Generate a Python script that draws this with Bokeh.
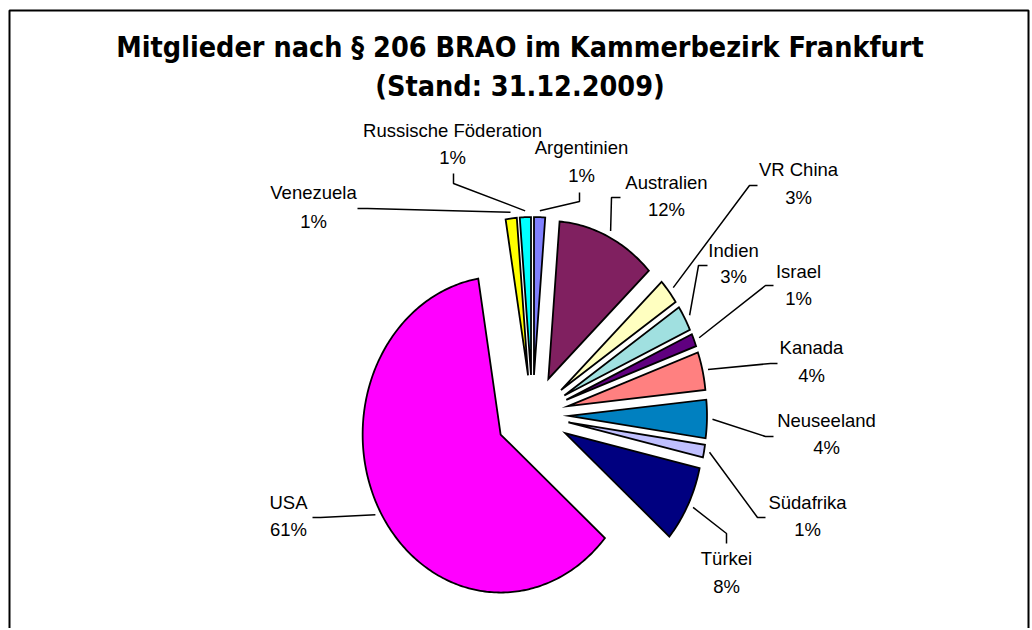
import numpy as np
from bokeh.plotting import figure
from bokeh.models import Range1d, ColumnDataSource
from bokeh.core.properties import value
from bokeh.embed import file_html
from bokeh.resources import INLINE

# ---- data (counts; labels show rounded shares) ----
countries = ["Argentinien", "Australien", "VR China", "Indien", "Israel", "Kanada",
             "Neuseeland", "Südafrika", "Türkei", "USA", "Venezuela", "Russische Föderation"]
counts = [1, 9, 2, 2, 1, 3, 3, 1, 6, 47, 1, 1]
colors = ["#8080FF", "#802060", "#FFFFC0", "#A0E0E0", "#600080", "#FF8080",
          "#0080C0", "#C0C0FF", "#000080", "#FF00FF", "#FFFF00", "#00FFFF"]
title_lines = ["Mitglieder nach § 206 BRAO im Kammerbezirk Frankfurt", "(Stand: 31.12.2009)"]

# ---- layout (page pixel coordinates) ----
W, H = 1030, 628
CX, CY = 532.0, 414.5          # pie centre
RX, RY = 138.0, 158.0          # pie radii (elliptical)
EX, EY = 36.5, 40.0            # explode offsets
label_x = [581, 666, 798, 733, 798, 811, 826, 807, 726, 288, 313, 452]
label_y1 = [148, 183, 170, 251, 272, 348, 421, 503, 559, 503, 193, 131]
label_y2 = [176, 210, 198, 277, 299, 376, 448, 530, 587, 530, 222, 158]
elbow = [(579, 201), (611, 197), (749, 185), (698, 265), (765, 285), (770, 363),
         (765, 436), (757, 517), (726, 533), (320, 517), (367, 208), (453, 183)]
tick_end = [(579, 192), (620, 197), (757, 185), (707, 265), (773, 285), (777, 363),
            (773, 436), (765, 517), (726, 543), (312, 517), (357, 208), (453, 173)]

p = figure(width=W, height=H, output_backend="svg", toolbar_location=None,
           x_range=Range1d(0, W), y_range=Range1d(H, 0), min_border=0)
p.axis.visible = False
p.grid.visible = False
p.outline_line_color = None
p.background_fill_color = "white"

# frame
p.line([9, 9, 1028, 1028], [640, 10, 10, 640], line_color="black", line_width=2)

total = float(sum(counts))
cum = np.concatenate([[0.0], np.cumsum(counts)]) / total * 360.0

xs, ys, lx, ly = [], [], [], []
for i in range(len(counts)):
    a0, a1 = np.radians(cum[i]), np.radians(cum[i + 1])
    mid = 0.5 * (a0 + a1)
    ax = CX + EX * np.sin(mid)
    ay = CY - EY * np.cos(mid)
    t = np.linspace(a0, a1, max(8, int((a1 - a0) * 60)))
    px = np.concatenate([[ax], ax + RX * np.sin(t)])
    py = np.concatenate([[ay], ay - RY * np.cos(t)])
    xs.append(list(px))
    ys.append(list(py))
    sx = ax + RX * 1.04 * np.sin(mid)
    sy = ay - RY * 1.04 * np.cos(mid)
    lx.append([sx, elbow[i][0], tick_end[i][0]])
    ly.append([sy, elbow[i][1], tick_end[i][1]])

p.patches(xs=xs, ys=ys, fill_color=colors, line_color="black", line_width=1.8,
          line_join="miter")
p.multi_line(xs=lx, ys=ly, line_color="black", line_width=1.5)

pcts = [f"{int(round(100.0 * c / total))}%" for c in counts]
src = ColumnDataSource(dict(x=label_x, y1=[y - 1.5 for y in label_y1],
                            y2=[y - 1.5 for y in label_y2], name=countries, pct=pcts))
p.text(x="x", y="y1", text="name", source=src, text_font=value("Liberation Sans"),
       text_font_size="18.5px", text_align="center", text_baseline="alphabetic",
       text_color="black")
p.text(x="x", y="y2", text="pct", source=src, text_font=value("Liberation Sans"),
       text_font_size="18.5px", text_align="center", text_baseline="alphabetic",
       text_color="black")

p.text(x=[519.5, 519.5], y=[47, 86], text=title_lines,
       text_font=value("DejaVu Sans Condensed"), text_font_style="bold",
       text_font_size="28.5px", text_align="center", text_baseline="alphabetic",
       text_color="black")

open("out.html", "w").write(file_html(p, INLINE))
